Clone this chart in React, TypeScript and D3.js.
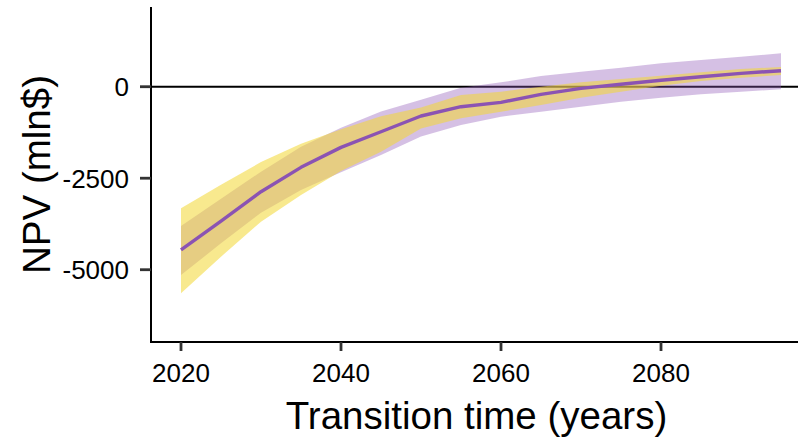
import React from "react";
import * as d3 from "d3";

// Transition year grid (5-year steps)
const years: number[] = [2020, 2025, 2030, 2035, 2040, 2045, 2050, 2055, 2060, 2065, 2070, 2075, 2080, 2085, 2090, 2095];

// Mean NPV (mln$)
const npvMean: number[] = [-4460, -3670, -2869, -2203, -1657, -1230, -800, -546, -427, -208, -44, 66, 175, 273, 366, 437];

// Wide (purple) uncertainty band
const purpleLow: number[] = [-5145, -4280, -3443, -2822, -2340, -1866, -1360, -1046, -820, -683, -546, -410, -300, -208, -137, -71];
const purpleHigh: number[] = [-3806, -3060, -2322, -1640, -1120, -680, -355, -27, 120, 292, 410, 519, 639, 730, 820, 912];

// Yellow uncertainty band
const yellowLow: number[] = [-5646, -4645, -3689, -2959, -2300, -1776, -1140, -865, -683, -500, -300, -137, 27, 155, 246, 320];
const yellowHigh: number[] = [-3323, -2677, -2060, -1560, -1160, -810, -570, -227, -137, 0, 120, 210, 300, 393, 484, 538];

// Axis ticks
const xTicks: number[] = [2020, 2040, 2060, 2080];
const yTicks: number[] = [0, -2500, -5000];

const W = 798;
const H = 446;
const left = 151;
const right = 798;
const top = 7;
const bottom = 342;

type Row = { year: number; mean: number; pLo: number; pHi: number; yLo: number; yHi: number };

export default function App() {
  const rows: Row[] = years.map((year, i) => ({
    year,
    mean: npvMean[i],
    pLo: purpleLow[i],
    pHi: purpleHigh[i],
    yLo: yellowLow[i],
    yHi: yellowHigh[i],
  }));

  const x = d3.scaleLinear().domain([2016.25, 2097.125]).range([left, right]);
  const y = d3.scaleLinear().domain([-6975, 2178]).range([bottom, top]);

  const purpleArea = d3
    .area<Row>()
    .x((d) => x(d.year))
    .y0((d) => y(d.pLo))
    .y1((d) => y(d.pHi));
  const yellowArea = d3
    .area<Row>()
    .x((d) => x(d.year))
    .y0((d) => y(d.yLo))
    .y1((d) => y(d.yHi));
  const meanLine = d3
    .line<Row>()
    .x((d) => x(d.year))
    .y((d) => y(d.mean));

  const font = "'Liberation Sans', Arial, Helvetica, sans-serif";

  return (
    <svg
      width={W}
      height={H}
      style={{ position: "absolute", left: 0, top: 0, background: "#fff" }}
      fontFamily={font}
    >
      {/* zero reference line */}
      <line x1={left} x2={right} y1={y(0)} y2={y(0)} stroke="#000" strokeWidth={2} />

      {/* uncertainty ribbons */}
      <path d={purpleArea(rows) || ""} fill="#8E55B5" fillOpacity={0.37} />
      <path d={yellowArea(rows) || ""} fill="#F2D835" fillOpacity={0.56} />

      {/* mean NPV */}
      <path d={meanLine(rows) || ""} fill="none" stroke="#8B53B3" strokeWidth={3.4} strokeLinejoin="round" />

      {/* axes */}
      <line x1={left} x2={left} y1={top} y2={bottom + 1} stroke="#000" strokeWidth={2} />
      <line x1={left - 1} x2={right} y1={bottom} y2={bottom} stroke="#000" strokeWidth={2} />

      {yTicks.map((t) => (
        <g key={`y${t}`}>
          <line x1={140} x2={left} y1={y(t)} y2={y(t)} stroke="#333" strokeWidth={2.8} />
          <text
            x={129}
            y={y(t)}
            dy="0.36em"
            textAnchor="end"
            fontSize={26}
            fill="#000"
          >
            {t === 0 ? "0" : String(t)}
          </text>
        </g>
      ))}

      {xTicks.map((t) => (
        <g key={`x${t}`}>
          <line x1={x(t)} x2={x(t)} y1={bottom} y2={351} stroke="#333" strokeWidth={2.8} />
          <text x={x(t)} y={382} textAnchor="middle" fontSize={26} fill="#000">
            {t}
          </text>
        </g>
      ))}

      <text x={(left + right) / 2 + 2} y={429} textAnchor="middle" fontSize={38.5} fill="#000">
        Transition time (years)
      </text>
      <text
        transform={`translate(49.5, ${(top + bottom) / 2}) rotate(-90)`}
        textAnchor="middle"
        fontSize={38.5}
        fill="#000"
      >
        NPV (mln$)
      </text>
    </svg>
  );
}
